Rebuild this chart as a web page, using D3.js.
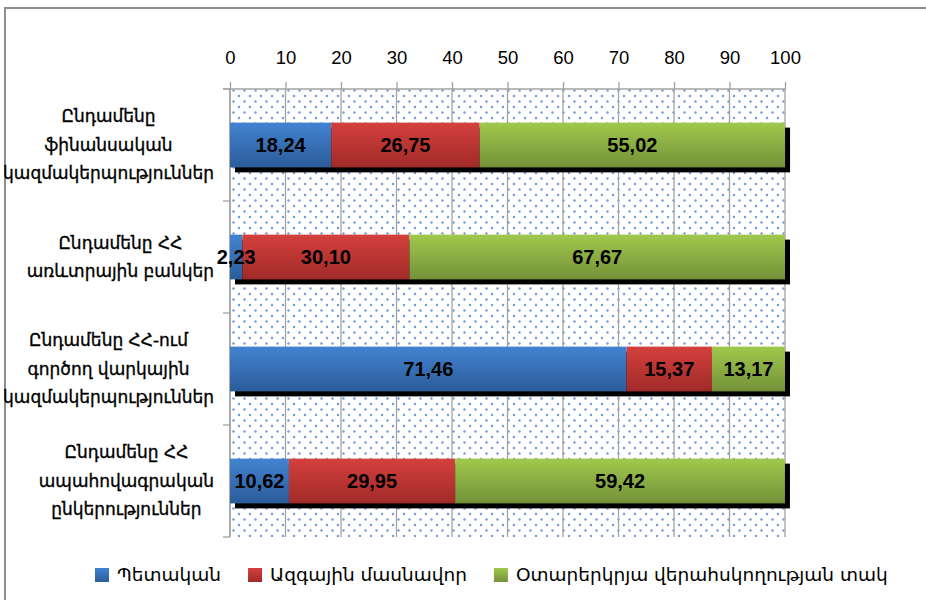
<!DOCTYPE html>
<html><head><meta charset="utf-8">
<script src="https://cdn.jsdelivr.net/npm/d3@7"></script>
<style>body{margin:0;background:#fff}svg{display:block}</style>
</head><body>
<svg id="c" width="926" height="600"></svg>
<script>
const categories = [
  ["Ընդամենը","ֆինանսական","կազմակերպություններ"],
  ["Ընդամենը ՀՀ","առևտրային բանկեր"],
  ["Ընդամենը ՀՀ-ում","գործող վարկային","կազմակերպություններ"],
  ["Ընդամենը ՀՀ","ապահովագրական","ընկերություններ"]
];
const seriesNames = ["Պետական","Ազգային մասնավոր","Օտարերկրյա վերահսկողության տակ"];
const stateValues = [18.24, 2.23, 71.46, 10.62];
const privateValues = [26.75, 30.10, 15.37, 29.95];
const foreignValues = [55.02, 67.67, 13.17, 59.42];
const xTicks = [0,10,20,30,40,50,60,70,80,90,100];

const colors = [["#4183d2","#2c5c98"],["#d4403d","#a02a28"],["#a0c84c","#74913a"]];
const svg = d3.select("#c");
const defs = svg.append("defs");
colors.forEach((c,i)=>{
  const g = defs.append("linearGradient").attr("id","g"+i).attr("x1",0).attr("y1",0).attr("x2",0).attr("y2",1);
  g.append("stop").attr("offset","0%").attr("stop-color",c[0]);
  g.append("stop").attr("offset","100%").attr("stop-color",c[1]);
});
const pat = defs.append("pattern").attr("id","dots").attr("patternUnits","userSpaceOnUse")
  .attr("width",11).attr("height",11);
pat.append("rect").attr("width",11).attr("height",11).attr("fill","#fff");
pat.append("circle").attr("cx",2.5).attr("cy",2.5).attr("r",1.2).attr("fill","#6f9ad9");
pat.append("circle").attr("cx",8).attr("cy",8).attr("r",1.2).attr("fill","#6f9ad9");

// frame
svg.append("rect").attr("x",5).attr("y",8).attr("width",2000).attr("height",2000)
  .attr("fill","none").attr("stroke","#8e8e8e").attr("stroke-width",2);

const L=230, R=785, T=89, B=537;
const x = d3.scaleLinear().domain([0,100]).range([L,R]);
const y = d3.scaleBand().domain(d3.range(categories.length)).range([T,B]).paddingInner(0.6).paddingOuter(0.3);
const yb = d3.scaleBand().domain(d3.range(categories.length)).range([T,B]).padding(0);

svg.append("rect").attr("x",L).attr("y",T).attr("width",R-L).attr("height",B-T).attr("fill","url(#dots)");

// gridlines
svg.append("g").selectAll("line").data(xTicks).join("line")
  .attr("x1",d=>x(d)).attr("x2",d=>x(d)).attr("y1",T).attr("y2",B)
  .attr("stroke","#a3a3a3").attr("stroke-width",1.3);

// top axis
const xAxis = svg.append("g").attr("transform",`translate(0,${T})`)
  .call(d3.axisTop(x).tickValues(xTicks).tickSize(7).tickPadding(18).tickSizeOuter(0));
xAxis.select(".domain").attr("stroke","#a3a3a3").attr("stroke-width",1.5).attr("d",`M${L-7},0H${R+1}`);
xAxis.selectAll(".tick line").attr("stroke","#a3a3a3").attr("stroke-width",1.3);
xAxis.selectAll("text").attr("font-family","Liberation Sans, Arial, sans-serif").attr("font-size",18.5).attr("fill","#000");

// left axis
const yAxis = svg.append("g").attr("transform",`translate(${L},0)`);
yAxis.append("line").attr("x1",0).attr("x2",0).attr("y1",T).attr("y2",B).attr("stroke","#a3a3a3").attr("stroke-width",1.5);
yAxis.selectAll("line.t").data(d3.range(categories.length+1)).join("line").attr("class","t")
  .attr("x1",-7).attr("x2",0)
  .attr("y1",d=>d<categories.length? yb(d): B).attr("y2",d=>d<categories.length? yb(d): B)
  .attr("stroke","#a3a3a3").attr("stroke-width",1.3);

// stack
const rows = categories.map((c,i)=>({i, v:[stateValues[i],privateValues[i],foreignValues[i]]}));
const stack = d3.stack().keys([0,1,2]).value((d,k)=>d.v[k]);
const stacked = stack(rows);

// shadows
svg.append("g").selectAll("rect").data(rows).join("rect")
  .attr("x",d=>x(0)+5).attr("y",d=>y(d.i)+5)
  .attr("width",d=>x(d3.sum(d.v))-x(0)).attr("height",y.bandwidth()).attr("fill","#000");

const fmt = v => d3.format(".2f")(v).replace(".",",");
stacked.forEach((s,k)=>{
  svg.append("g").selectAll("rect").data(s).join("rect")
    .attr("x",d=>x(d[0])).attr("y",d=>y(d.data.i))
    .attr("width",d=>x(d[1])-x(d[0])).attr("height",y.bandwidth()).attr("fill",`url(#g${k})`);
});
stacked.forEach((s,k)=>{
  svg.append("g").selectAll("text").data(s).join("text")
    .attr("x",d=>(x(d[0])+x(d[1]))/2).attr("y",d=>y(d.data.i)+y.bandwidth()/2)
    .attr("dy","0.36em").attr("text-anchor","middle")
    .attr("font-family","Liberation Sans, Arial, sans-serif").attr("font-weight","bold").attr("font-size",20)
    .attr("fill","#000").text(d=>fmt(d.data.v[k]));
});

// category labels
const lh = 28.5;
categories.forEach((lines,i)=>{
  const g = svg.append("g");
  const cy = yb(i)+yb.bandwidth()/2;
  const ts = g.selectAll("text").data(lines).join("text")
    .attr("y",(d,j)=>cy+(j-(lines.length-1)/2)*lh).attr("dy","0.35em")
    .attr("text-anchor","middle").attr("font-family","DejaVu Sans, sans-serif").attr("font-size",17)
    .attr("fill","#000").attr("stroke","#000").attr("stroke-width",0.35).text(d=>d);
  let mw=0; ts.each(function(){mw=Math.max(mw,this.getComputedTextLength());});
  ts.attr("x",214-mw/2);
});

// legend
let lx = 95;
seriesNames.forEach((n,k)=>{
  svg.append("rect").attr("x",lx).attr("y",568).attr("width",14).attr("height",14).attr("fill",`url(#g${k})`);
  const t = svg.append("text").attr("x",lx+22).attr("y",575).attr("dy","0.35em")
    .attr("font-family","DejaVu Sans, sans-serif").attr("font-size",18.5).attr("fill","#000").text(n);
  lx += 22 + t.node().getComputedTextLength() + 27;
});
</script>
</body></html>
